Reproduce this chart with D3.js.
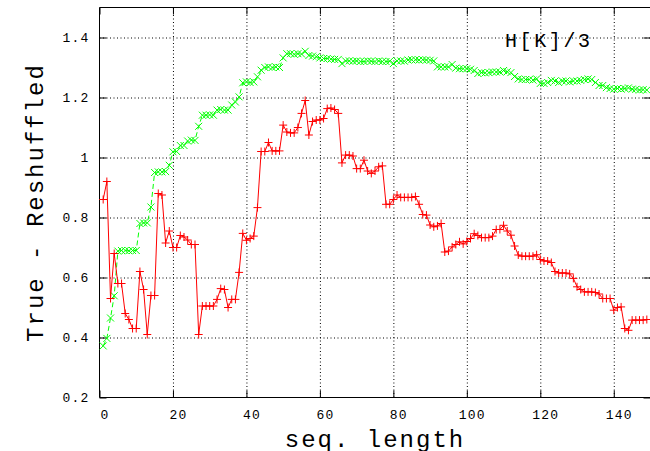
<!DOCTYPE html>
<html>
<head>
<meta charset="utf-8">
<script src="https://cdn.jsdelivr.net/npm/d3@7"></script>
<style>
  body { margin: 0; background: #fff; }
  svg { display: block; font-family: "Liberation Mono", "DejaVu Sans Mono", monospace; }
  .grid line { stroke: #000; stroke-width: 1; stroke-dasharray: 1,2.5; }
  .grid path { display: none; }
  .ticks line { stroke: #000; stroke-width: 1; }
  .ticks path { display: none; }
  .labels path, .labels line { display: none; }
  .labels text { font-family: "Liberation Mono", monospace; font-size: 13px; letter-spacing: 1.2px; fill: #000; }
</style>
</head>
<body>
<div class="vis-holder"></div>
<script>
// seq. length values (x)
var seqLength = [
  1, 2, 3, 4, 5, 6, 7, 8, 9, 10, 11, 12, 13, 14, 15, 16, 17, 18, 19, 20,
  21, 22, 23, 24, 25, 26, 27, 28, 29, 30, 31, 32, 33, 34, 35, 36, 37, 38, 39, 40,
  41, 42, 43, 44, 45, 46, 47, 48, 49, 50, 51, 52, 53, 54, 55, 56, 57, 58, 59, 60,
  61, 62, 63, 64, 65, 66, 67, 68, 69, 70, 71, 72, 73, 74, 75, 76, 77, 78, 79, 80,
  81, 82, 83, 84, 85, 86, 87, 88, 89, 90, 91, 92, 93, 94, 95, 96, 97, 98, 99, 100,
  101, 102, 103, 104, 105, 106, 107, 108, 109, 110, 111, 112, 113, 114, 115, 116, 117, 118, 119, 120,
  121, 122, 123, 124, 125, 126, 127, 128, 129, 130, 131, 132, 133, 134, 135, 136, 137, 138, 139, 140,
  141, 142, 143, 144, 145, 146, 147, 148, 149
];

// red series (+, solid line)
var redValues = [
  0.86, 0.92, 0.53, 0.68, 0.58, 0.58, 0.48, 0.46, 0.43, 0.43,
  0.62, 0.56, 0.41, 0.54, 0.54, 0.88, 0.875, 0.715, 0.755, 0.70,
  0.70, 0.74, 0.735, 0.725, 0.71, 0.71, 0.41, 0.505, 0.505, 0.505,
  0.505, 0.527, 0.563, 0.56, 0.50, 0.527, 0.527, 0.617, 0.747, 0.724,
  0.73, 0.738, 0.833, 1.02, 1.02, 1.05, 1.022, 1.022, 1.022, 1.108,
  1.085, 1.082, 1.082, 1.10, 1.147, 1.19, 1.075, 1.12, 1.125, 1.125,
  1.13, 1.163, 1.165, 1.16, 1.147, 0.982, 1.008, 1.008, 1.005, 0.963,
  0.963, 0.991, 0.955, 0.947, 0.955, 0.969, 0.972, 0.844, 0.844, 0.86,
  0.875, 0.867, 0.867, 0.867, 0.867, 0.87, 0.844, 0.81, 0.808, 0.775,
  0.769, 0.772, 0.78, 0.685, 0.688, 0.702, 0.71, 0.719, 0.712, 0.72,
  0.73, 0.746, 0.74, 0.733, 0.733, 0.733, 0.738, 0.76, 0.76, 0.774,
  0.755, 0.741, 0.705, 0.675, 0.671, 0.671, 0.671, 0.671, 0.676, 0.66,
  0.655, 0.655, 0.65, 0.62, 0.615, 0.615, 0.615, 0.612, 0.597, 0.569,
  0.56, 0.552, 0.552, 0.552, 0.55, 0.545, 0.53, 0.53, 0.53, 0.491,
  0.50, 0.502, 0.43, 0.424, 0.458, 0.458, 0.458, 0.458, 0.46
];

// green series H[K]/3 (x, dashed line)
var greenValues = [
  0.372, 0.397, 0.465, 0.539, 0.688, 0.69, 0.69, 0.689, 0.69, 0.69,
  0.78, 0.782, 0.782, 0.835, 0.95, 0.952, 0.952, 0.953, 0.974, 1.019,
  1.02, 1.04, 1.04, 1.055, 1.058, 1.057, 1.104, 1.141, 1.141, 1.142,
  1.141, 1.158, 1.16, 1.158, 1.158, 1.175, 1.185, 1.202, 1.249, 1.252,
  1.25, 1.252, 1.269, 1.291, 1.30, 1.302, 1.30, 1.302, 1.30, 1.332,
  1.346, 1.346, 1.344, 1.346, 1.345, 1.354, 1.34, 1.338, 1.336, 1.332,
  1.33, 1.33, 1.328, 1.327, 1.327, 1.313, 1.322, 1.322, 1.321, 1.322,
  1.32, 1.32, 1.322, 1.321, 1.32, 1.322, 1.32, 1.32, 1.321, 1.313,
  1.322, 1.322, 1.321, 1.325, 1.326, 1.326, 1.325, 1.326, 1.325, 1.324,
  1.322, 1.302, 1.302, 1.302, 1.302, 1.31, 1.298, 1.296, 1.296, 1.296,
  1.294, 1.29, 1.28, 1.283, 1.282, 1.283, 1.285, 1.285, 1.285, 1.29,
  1.286, 1.283, 1.27, 1.262, 1.26, 1.26, 1.26, 1.258, 1.262, 1.247,
  1.247, 1.25, 1.257, 1.255, 1.25, 1.255, 1.255, 1.252, 1.255, 1.255,
  1.257, 1.26, 1.262, 1.26, 1.25, 1.24, 1.24, 1.233, 1.23, 1.228,
  1.23, 1.228, 1.23, 1.232, 1.228, 1.227, 1.225, 1.226, 1.225
];

// tick values
var xTicks = [0, 20, 40, 60, 80, 100, 120, 140];
var yTicks = [0.2, 0.4, 0.6, 0.8, 1, 1.2, 1.4];
var yTickLabels = ["0.2", "0.4", "0.6", "0.8", "1", "1.2", "1.4"];

var width = 650;
var height = 451;
var margin = { top: 7.5, bottom: 53.5, left: 99.5, right: -0.5 };

var svg = d3.select(".vis-holder")
            .append("svg")
            .attr("width", width)
            .attr("height", height);

var xScale = d3.scaleLinear()
               .domain([0, 150])
               .range([margin.left, width - margin.right]);

var yScale = d3.scaleLinear()
               .domain([0.2, 1.5])
               .range([height - margin.bottom, margin.top]);

var plotH = (height - margin.bottom) - margin.top;
var plotW = (width - margin.right) - margin.left;

// dotted grid
svg.append("g")
   .attr("class", "grid")
   .attr("transform", `translate(0, ${height - margin.bottom})`)
   .call(d3.axisBottom(xScale).tickValues(xTicks.slice(1)).tickSize(-plotH).tickFormat(""));

svg.append("g")
   .attr("class", "grid")
   .attr("transform", `translate(${margin.left}, 0)`)
   .call(d3.axisLeft(yScale).tickValues(yTicks.slice(1)).tickSize(-plotW).tickFormat(""));

// small inward ticks on all four sides
svg.append("g").attr("class", "ticks")
   .attr("transform", `translate(0, ${height - margin.bottom})`)
   .call(d3.axisBottom(xScale).tickValues(xTicks).tickSize(-7).tickFormat(""));
svg.append("g").attr("class", "ticks")
   .attr("transform", `translate(0, ${margin.top})`)
   .call(d3.axisTop(xScale).tickValues(xTicks).tickSize(-7).tickFormat(""));
svg.append("g").attr("class", "ticks")
   .attr("transform", `translate(${margin.left}, 0)`)
   .call(d3.axisLeft(yScale).tickValues(yTicks).tickSize(-7).tickFormat(""));
svg.append("g").attr("class", "ticks")
   .attr("transform", `translate(${width - margin.right}, 0)`)
   .call(d3.axisRight(yScale).tickValues(yTicks).tickSize(-7).tickFormat(""));

// tick labels
svg.append("g").attr("class", "labels")
   .attr("transform", `translate(0, ${height - margin.bottom})`)
   .call(d3.axisBottom(xScale).tickValues(xTicks).tickSize(0).tickPadding(12).tickFormat(d3.format("d")))
   .selectAll("text").attr("dx", 5);

svg.append("g").attr("class", "labels")
   .attr("transform", `translate(${margin.left}, 0)`)
   .call(d3.axisLeft(yScale).tickValues(yTicks).tickSize(0).tickPadding(10)
           .tickFormat(function(d, i) { return yTickLabels[i]; }));

// border (left, top, bottom, right)
svg.append("path")
   .attr("d", `M${width - margin.right},${margin.top}H${margin.left}V${height - margin.bottom}H${width - margin.right}Z`)
   .attr("fill", "none")
   .attr("stroke", "#000")
   .attr("stroke-width", 1);

var green = seqLength.map(function(d, i) { return { x: d, y: greenValues[i] }; });
var red = seqLength.map(function(d, i) { return { x: d, y: redValues[i] }; });

var line = d3.line()
             .x(function(d) { return xScale(d.x); })
             .y(function(d) { return yScale(d.y); });

// green series: dashed line with x markers
svg.append("path")
   .attr("d", line(green))
   .attr("fill", "none")
   .attr("stroke", "#00ff00")
   .attr("stroke-width", 1)
   .attr("stroke-dasharray", "5,3");

svg.append("g")
   .selectAll("path")
   .data(green)
   .enter()
   .append("path")
   .attr("transform", function(d) { return `translate(${xScale(d.x)},${yScale(d.y)})`; })
   .attr("d", "M-3.5,-3.5L3.5,3.5M-3.5,3.5L3.5,-3.5")
   .attr("stroke", "#00ff00")
   .attr("stroke-width", 1)
   .attr("fill", "none");

// red series: solid line with + markers
svg.append("path")
   .attr("d", line(red))
   .attr("fill", "none")
   .attr("stroke", "#ff0000")
   .attr("stroke-width", 1);

svg.append("g")
   .selectAll("path")
   .data(red)
   .enter()
   .append("path")
   .attr("transform", function(d) { return `translate(${xScale(d.x)},${yScale(d.y)})`; })
   .attr("d", "M-4,0H4M0,-4V4")
   .attr("stroke", "#ff0000")
   .attr("stroke-width", 1)
   .attr("fill", "none");

// key text
svg.append("text")
   .attr("x", 505)
   .attr("y", 46.5)
   .attr("font-size", 20)
   .attr("letter-spacing", 2.6)
   .attr("fill", "#000")
   .text("H[K]/3");

// x-axis title
svg.append("text")
   .attr("text-anchor", "middle")
   .attr("x", (margin.left + width - margin.right) / 2)
   .attr("y", 447)
   .attr("font-size", 24)
   .attr("letter-spacing", 2)
   .attr("fill", "#000")
   .text("seq. length");

// y-axis title
svg.append("text")
   .attr("text-anchor", "middle")
   .attr("transform", "translate(43," + ((margin.top + height - margin.bottom) / 2) + ")rotate(-90)")
   .attr("font-size", 24)
   .attr("letter-spacing", 2)
   .attr("fill", "#000")
   .text("True - Reshuffled");
</script>
</body>
</html>
